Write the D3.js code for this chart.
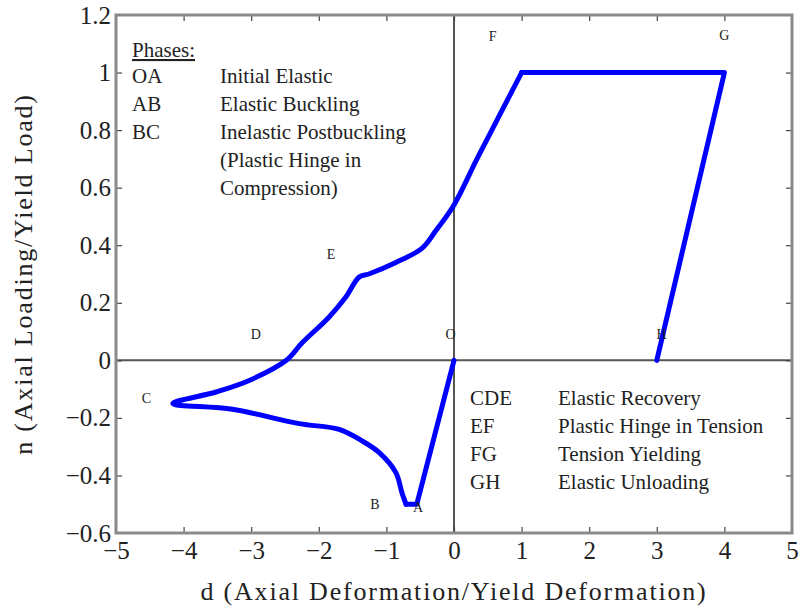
<!DOCTYPE html>
<html lang="en">
<head>
  <meta charset="UTF-8">
  <title>Brace hysteresis phases</title>
  <style>
  body {
    margin: 0;
    background: white;
  }
  svg text {
    font-family: "Liberation Serif", "DejaVu Serif", "Times New Roman", serif;
    fill: #222;
  }
  .frame {
    fill: none;
    stroke: #8a8a8a;
    stroke-width: 3;
  }
  .zero {
    stroke: #555;
    stroke-width: 2;
  }
  .axis path {
    display: none;
  }
  .axis line {
    stroke: #444;
    stroke-width: 1.2;
  }
  .curve {
    fill: none;
    stroke: #0000ff;
    stroke-width: 5;
    stroke-linejoin: round;
    stroke-linecap: round;
  }
  </style>
</head>
<body>
  <script src="https://d3js.org/d3.v7.min.js"></script>
  <script>

  // path O -> A -> B -> C -> D -> E -> F -> G -> H (d, n)
  var curveD = [0, -0.55, -0.71, -0.77, -0.86, -1.11, -1.36, -1.70, -2.29, -3.28, -4.16,
                -3.52, -3.03, -2.48, -2.25, -1.85, -1.60, -1.40, -1.26, -0.86, -0.47, -0.27,
                0, 0.34, 0.67, 1.0, 4.0, 3.0];
  var curveN = [0, -0.50, -0.50, -0.46, -0.39, -0.32, -0.28, -0.24, -0.22, -0.17, -0.15,
                -0.11, -0.07, 0, 0.06, 0.15, 0.22, 0.29, 0.30, 0.34, 0.39, 0.45,
                0.54, 0.70, 0.85, 1.0, 1.0, 0];

  var pointNames = ['F', 'G', 'E', 'D', 'O', 'H', 'C', 'B', 'A'];
  var pointD = [0.57, 4.0, -1.82, -2.93, -0.05, 3.07, -4.55, -1.17, -0.53];
  var pointN = [1.125, 1.13, 0.37, 0.09, 0.09, 0.09, -0.13, -0.50, -0.51];

  var xTicks = [-5, -4, -3, -2, -1, 0, 1, 2, 3, 4, 5];
  var yTicks = [-0.6, -0.4, -0.2, 0, 0.2, 0.4, 0.6, 0.8, 1, 1.2];

  var phasesTop = [['OA', 'Initial Elastic'], ['AB', 'Elastic Buckling'],
                   ['BC', 'Inelastic Postbuckling'], ['', '(Plastic Hinge in'], ['', 'Compression)']];
  var phasesBottom = [['CDE', 'Elastic Recovery'], ['EF', 'Plastic Hinge in Tension'],
                      ['FG', 'Tension Yielding'], ['GH', 'Elastic Unloading']];

  var width = 800, height = 614;
  var margin = { top: 15, right: 8, bottom: 81, left: 116 };

  var svg = d3.select('body').append('svg')
              .attr('width', width)
              .attr('height', height);

  var x = d3.scaleLinear().domain([-5, 5]).range([margin.left, width - margin.right]);
  var y = d3.scaleLinear().domain([-0.6, 1.2]).range([height - margin.bottom, margin.top]);

  svg.append('clipPath').attr('id', 'plot')
     .append('rect')
     .attr('x', margin.left).attr('y', margin.top)
     .attr('width', x(5) - x(-5)).attr('height', y(-0.6) - y(1.2));

  // zero lines
  svg.append('line').attr('class', 'zero')
     .attr('x1', x(-5)).attr('x2', x(5)).attr('y1', y(0)).attr('y2', y(0));
  svg.append('line').attr('class', 'zero')
     .attr('x1', x(0)).attr('x2', x(0)).attr('y1', y(-0.6)).attr('y2', y(1.2));

  // axes, ticks pointing inward on all four sides
  var fmt = d3.format('~g');
  svg.append('g').attr('class', 'axis')
     .attr('transform', 'translate(0,' + y(-0.6) + ')')
     .call(d3.axisBottom(x).tickValues(xTicks).tickSize(-6).tickPadding(8).tickFormat(fmt))
     .selectAll('text').style('font-size', '25px');
  svg.append('g').attr('class', 'axis')
     .attr('transform', 'translate(0,' + y(1.2) + ')')
     .call(d3.axisTop(x).tickValues(xTicks).tickSize(-6).tickFormat(''));
  svg.append('g').attr('class', 'axis')
     .attr('transform', 'translate(' + x(-5) + ',0)')
     .call(d3.axisLeft(y).tickValues(yTicks).tickSize(-6).tickPadding(5).tickFormat(fmt))
     .selectAll('text').style('font-size', '25px');
  svg.append('g').attr('class', 'axis')
     .attr('transform', 'translate(' + x(5) + ',0)')
     .call(d3.axisRight(y).tickValues(yTicks).tickSize(-6).tickFormat(''));

  svg.selectAll('.axis .tick').filter(function (d) { return d === -5 || d === 5 || d === -0.6 || d === 1.2; })
     .select('line').remove();

  // the curve: straight O-A-B and F-G-H, smooth B...F
  var pts = d3.zip(curveD, curveN);
  var straight = d3.line()
                   .x(function (d) { return x(d[0]); })
                   .y(function (d) { return y(d[1]); });
  var smooth = d3.line()
                 .x(function (d) { return x(d[0]); })
                 .y(function (d) { return y(d[1]); })
                 .curve(d3.curveCatmullRom.alpha(0.5));
  svg.append('path').attr('class', 'curve').attr('d', straight(pts.slice(0, 3)));
  svg.append('path').attr('class', 'curve').attr('d', smooth(pts.slice(2, 26)));
  svg.append('path').attr('class', 'curve').attr('d', straight(pts.slice(25)));

  // point letters
  svg.append('g').selectAll('text')
     .data(d3.zip(pointNames, pointD, pointN))
     .enter().append('text')
     .attr('x', function (d) { return x(d[1]); })
     .attr('y', function (d) { return y(d[2]); })
     .attr('text-anchor', 'middle')
     .attr('dy', '0.35em')
     .style('font-size', '14px')
     .text(function (d) { return d[0]; });

  // phase legends
  var legend = svg.append('g').attr('clip-path', 'url(#plot)').style('font-size', '21px');
  legend.append('text')
        .attr('x', 132).attr('y', 57)
        .style('text-decoration', 'underline')
        .text('Phases:');
  phasesTop.forEach(function (p, i) {
    legend.append('text').attr('x', 132).attr('y', 83 + i * 28).text(p[0]);
    legend.append('text').attr('x', 220).attr('y', 83 + i * 28).text(p[1]);
  });
  phasesBottom.forEach(function (p, i) {
    legend.append('text').attr('x', 470).attr('y', 405 + i * 28).text(p[0]);
    legend.append('text').attr('x', 558).attr('y', 405 + i * 28).text(p[1]);
  });

  // frame
  svg.append('rect').attr('class', 'frame')
     .attr('x', x(-5)).attr('y', y(1.2))
     .attr('width', x(5) - x(-5)).attr('height', y(-0.6) - y(1.2));

  // axis titles
  svg.append('text')
     .attr('x', x(0)).attr('y', 600)
     .attr('text-anchor', 'middle')
     .style('font-size', '26px')
     .style('letter-spacing', '1.8px')
     .text('d (Axial Deformation/Yield Deformation)');
  svg.append('text')
     .attr('transform', 'translate(32,' + y(0.3) + ') rotate(-90)')
     .attr('text-anchor', 'middle')
     .style('font-size', '26px')
     .style('letter-spacing', '1.8px')
     .text('n (Axial Loading/Yield Load)');
  </script>
</body>
</html>
